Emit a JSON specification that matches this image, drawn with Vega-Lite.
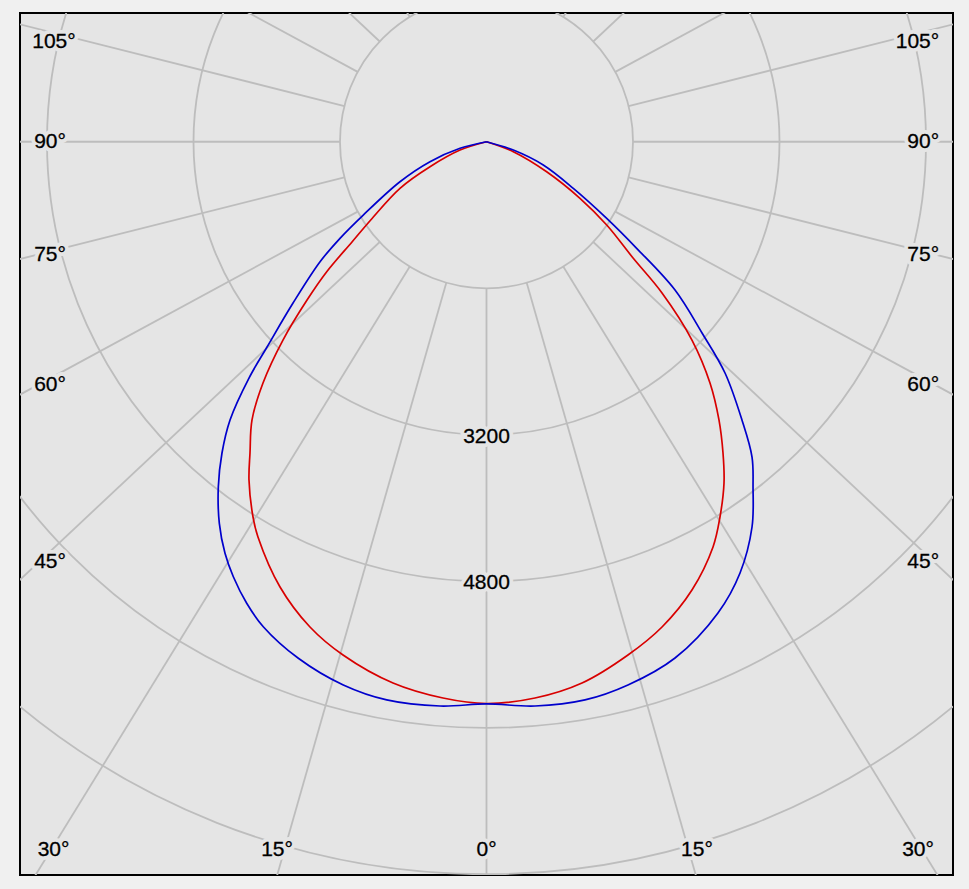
{
  "$schema": "https://vega.github.io/schema/vega-lite/v6.json",
  "width": 933,
  "height": 862,
  "autosize": "none",
  "padding": {"left": 20, "top": 13, "right": 16, "bottom": 14},
  "background": "#f0f0f0",
  "config": {
    "view": {"fill": "#e5e5e5", "stroke": "#000000", "strokeWidth": 2},
    "axis": {"disable": true}
  },
  "datasets": {
    "rings": [{"r": 1600}, {"r": 3200}, {"r": 4800}, {"r": 6400}, {"r": 8000}],
    "spokes": [
      {"x1": 0, "y1": -1600, "x2": 0, "y2": -12000},
      {"x1": 439, "y1": -1539, "x2": 3293, "y2": -11539},
      {"x1": 838, "y1": -1363, "x2": 6286, "y2": -10222},
      {"x1": 1166, "y1": -1095, "x2": 8748, "y2": -8214},
      {"x1": 1407, "y1": -763, "x2": 10550, "y2": -5719},
      {"x1": 1552, "y1": -390, "x2": 11638, "y2": -2927},
      {"x1": 1600, "y1": 0, "x2": 12000, "y2": 0},
      {"x1": 1552, "y1": 390, "x2": 11638, "y2": 2927},
      {"x1": 1407, "y1": 763, "x2": 10550, "y2": 5719},
      {"x1": 1166, "y1": 1095, "x2": 8748, "y2": 8214},
      {"x1": 838, "y1": 1363, "x2": 6286, "y2": 10222},
      {"x1": -439, "y1": -1539, "x2": -3293, "y2": -11539},
      {"x1": -838, "y1": -1363, "x2": -6286, "y2": -10222},
      {"x1": -1166, "y1": -1095, "x2": -8748, "y2": -8214},
      {"x1": -1407, "y1": -763, "x2": -10550, "y2": -5719},
      {"x1": -1552, "y1": -390, "x2": -11638, "y2": -2927},
      {"x1": -1600, "y1": 0, "x2": -12000, "y2": 0},
      {"x1": -1552, "y1": 390, "x2": -11638, "y2": 2927},
      {"x1": -1407, "y1": 763, "x2": -10550, "y2": 5719},
      {"x1": -1166, "y1": 1095, "x2": -8748, "y2": 8214},
      {"x1": -838, "y1": 1363, "x2": -6286, "y2": 10222}
    ],
    "labels": [
      {"label": "105°", "x": -4724, "y": 1092},
      {"label": "90°", "x": -4767, "y": 0},
      {"label": "75°", "x": -4767, "y": -1237},
      {"label": "60°", "x": -4767, "y": -2657},
      {"label": "45°", "x": -4767, "y": -4590},
      {"label": "105°", "x": 4707, "y": 1092},
      {"label": "90°", "x": 4770, "y": 0},
      {"label": "75°", "x": 4770, "y": -1237},
      {"label": "60°", "x": 4770, "y": -2657},
      {"label": "45°", "x": 4770, "y": -4590},
      {"label": "30°", "x": -4729, "y": -7736},
      {"label": "15°", "x": -2288, "y": -7736},
      {"label": "0°", "x": 0, "y": -7736},
      {"label": "15°", "x": 2299, "y": -7736},
      {"label": "30°", "x": 4713, "y": -7736},
      {"label": "3200", "x": 0, "y": -3222},
      {"label": "4800", "x": 0, "y": -4823}
    ],
    "curves": [
      {"series": "blue", "order": 1, "x": 0, "y": 0},
      {"series": "blue", "order": 2, "x": -289, "y": -72},
      {"series": "blue", "order": 3, "x": -617, "y": -218},
      {"series": "blue", "order": 4, "x": -945, "y": -437},
      {"series": "blue", "order": 5, "x": -1346, "y": -801},
      {"series": "blue", "order": 6, "x": -1600, "y": -1055},
      {"series": "blue", "order": 7, "x": -1818, "y": -1311},
      {"series": "blue", "order": 8, "x": -2113, "y": -1762},
      {"series": "blue", "order": 9, "x": -2397, "y": -2242},
      {"series": "blue", "order": 10, "x": -2594, "y": -2581},
      {"series": "blue", "order": 11, "x": -2801, "y": -3039},
      {"series": "blue", "order": 12, "x": -2889, "y": -3400},
      {"series": "blue", "order": 13, "x": -2929, "y": -3768},
      {"series": "blue", "order": 14, "x": -2918, "y": -4168},
      {"series": "blue", "order": 15, "x": -2856, "y": -4495},
      {"series": "blue", "order": 16, "x": -2765, "y": -4751},
      {"series": "blue", "order": 17, "x": -2619, "y": -5041},
      {"series": "blue", "order": 18, "x": -2438, "y": -5297},
      {"series": "blue", "order": 19, "x": -2055, "y": -5642},
      {"series": "blue", "order": 20, "x": -1564, "y": -5934},
      {"series": "blue", "order": 21, "x": -1090, "y": -6097},
      {"series": "blue", "order": 22, "x": -508, "y": -6163},
      {"series": "blue", "order": 23, "x": 0, "y": -6141},
      {"series": "blue", "order": 24, "x": 530, "y": -6163},
      {"series": "blue", "order": 25, "x": 1076, "y": -6097},
      {"series": "blue", "order": 26, "x": 1545, "y": -5934},
      {"series": "blue", "order": 27, "x": 2059, "y": -5639},
      {"series": "blue", "order": 28, "x": 2528, "y": -5147},
      {"series": "blue", "order": 29, "x": 2769, "y": -4710},
      {"series": "blue", "order": 30, "x": 2900, "y": -4208},
      {"series": "blue", "order": 31, "x": 2911, "y": -3771},
      {"series": "blue", "order": 32, "x": 2900, "y": -3444},
      {"series": "blue", "order": 33, "x": 2790, "y": -3039},
      {"series": "blue", "order": 34, "x": 2605, "y": -2526},
      {"series": "blue", "order": 35, "x": 2354, "y": -2089},
      {"series": "blue", "order": 36, "x": 2059, "y": -1620},
      {"series": "blue", "order": 37, "x": 1640, "y": -1164},
      {"series": "blue", "order": 38, "x": 1313, "y": -837},
      {"series": "blue", "order": 39, "x": 948, "y": -509},
      {"series": "blue", "order": 40, "x": 620, "y": -254},
      {"series": "blue", "order": 41, "x": 293, "y": -91},
      {"series": "blue", "order": 42, "x": 0, "y": 0},
      {"series": "red", "order": 1, "x": 0, "y": 0},
      {"series": "red", "order": 2, "x": -289, "y": -91},
      {"series": "red", "order": 3, "x": -617, "y": -273},
      {"series": "red", "order": 4, "x": -945, "y": -509},
      {"series": "red", "order": 5, "x": -1262, "y": -852},
      {"series": "red", "order": 6, "x": -1469, "y": -1095},
      {"series": "red", "order": 7, "x": -1745, "y": -1420},
      {"series": "red", "order": 8, "x": -1960, "y": -1729},
      {"series": "red", "order": 9, "x": -2223, "y": -2166},
      {"series": "red", "order": 10, "x": -2441, "y": -2635},
      {"series": "red", "order": 11, "x": -2561, "y": -3039},
      {"series": "red", "order": 12, "x": -2583, "y": -3400},
      {"series": "red", "order": 13, "x": -2594, "y": -3695},
      {"series": "red", "order": 14, "x": -2550, "y": -4099},
      {"series": "red", "order": 15, "x": -2496, "y": -4317},
      {"series": "red", "order": 16, "x": -2255, "y": -4863},
      {"series": "red", "order": 17, "x": -1928, "y": -5300},
      {"series": "red", "order": 18, "x": -1567, "y": -5606},
      {"series": "red", "order": 19, "x": -1021, "y": -5912},
      {"series": "red", "order": 20, "x": -475, "y": -6076},
      {"series": "red", "order": 21, "x": 0, "y": -6136},
      {"series": "red", "order": 22, "x": 530, "y": -6076},
      {"series": "red", "order": 23, "x": 1043, "y": -5912},
      {"series": "red", "order": 24, "x": 1545, "y": -5606},
      {"series": "red", "order": 25, "x": 1917, "y": -5300},
      {"series": "red", "order": 26, "x": 2244, "y": -4896},
      {"series": "red", "order": 27, "x": 2474, "y": -4426},
      {"series": "red", "order": 28, "x": 2550, "y": -4099},
      {"series": "red", "order": 29, "x": 2594, "y": -3728},
      {"series": "red", "order": 30, "x": 2583, "y": -3400},
      {"series": "red", "order": 31, "x": 2539, "y": -3039},
      {"series": "red", "order": 32, "x": 2441, "y": -2635},
      {"series": "red", "order": 33, "x": 2244, "y": -2166},
      {"series": "red", "order": 34, "x": 1917, "y": -1652},
      {"series": "red", "order": 35, "x": 1603, "y": -1273},
      {"series": "red", "order": 36, "x": 1313, "y": -910},
      {"series": "red", "order": 37, "x": 1021, "y": -618},
      {"series": "red", "order": 38, "x": 657, "y": -328},
      {"series": "red", "order": 39, "x": 293, "y": -109},
      {"series": "red", "order": 40, "x": 0, "y": 0}
    ]
  },
  "layer": [
    {
      "data": {"name": "rings"},
      "mark": {"type": "point", "shape": "circle", "filled": false, "stroke": "#bdbdbd", "strokeWidth": 1.8, "opacity": 1, "clip": true},
      "encoding": {
        "x": {"datum": 0, "type": "quantitative", "scale": {"domain": [-5095, 5095], "nice": false, "zero": false}, "axis": null},
        "y": {"datum": 0, "type": "quantitative", "scale": {"domain": [-8009, 1406], "nice": false, "zero": false}, "axis": null},
        "size": {"field": "r", "type": "quantitative", "scale": {"type": "pow", "exponent": 2, "domain": [0, 8000], "range": [0, 2146225], "zero": true}, "legend": null}
      }
    },
    {
      "data": {"name": "spokes"},
      "mark": {"type": "rule", "stroke": "#bdbdbd", "strokeWidth": 1.8, "clip": true},
      "encoding": {
        "x": {"field": "x1", "type": "quantitative"},
        "y": {"field": "y1", "type": "quantitative"},
        "x2": {"field": "x2"},
        "y2": {"field": "y2"}
      }
    },
    {
      "data": {"name": "labels"},
      "mark": {"type": "text", "font": "Liberation Sans", "fontSize": 21, "align": "center", "baseline": "middle", "fill": "#e5e5e5", "stroke": "#e5e5e5", "strokeWidth": 8, "strokeJoin": "round"},
      "encoding": {
        "x": {"field": "x", "type": "quantitative"},
        "y": {"field": "y", "type": "quantitative"},
        "text": {"field": "label"}
      }
    },
    {
      "data": {"name": "labels"},
      "mark": {"type": "text", "font": "Liberation Sans", "fontSize": 21, "align": "center", "baseline": "middle", "fill": "#000000", "stroke": "#000000", "strokeWidth": 0.3},
      "encoding": {
        "x": {"field": "x", "type": "quantitative"},
        "y": {"field": "y", "type": "quantitative"},
        "text": {"field": "label"}
      }
    },
    {
      "data": {"name": "curves"},
      "transform": [{"filter": "datum.series == 'red'"}],
      "mark": {"type": "line", "stroke": "#d80000", "strokeWidth": 1.7, "interpolate": "catmull-rom", "clip": true},
      "encoding": {
        "x": {"field": "x", "type": "quantitative"},
        "y": {"field": "y", "type": "quantitative"},
        "order": {"field": "order", "type": "quantitative"}
      }
    },
    {
      "data": {"name": "curves"},
      "transform": [{"filter": "datum.series == 'blue'"}],
      "mark": {"type": "line", "stroke": "#0000cc", "strokeWidth": 1.7, "interpolate": "catmull-rom", "clip": true},
      "encoding": {
        "x": {"field": "x", "type": "quantitative"},
        "y": {"field": "y", "type": "quantitative"},
        "order": {"field": "order", "type": "quantitative"}
      }
    }
  ]
}
